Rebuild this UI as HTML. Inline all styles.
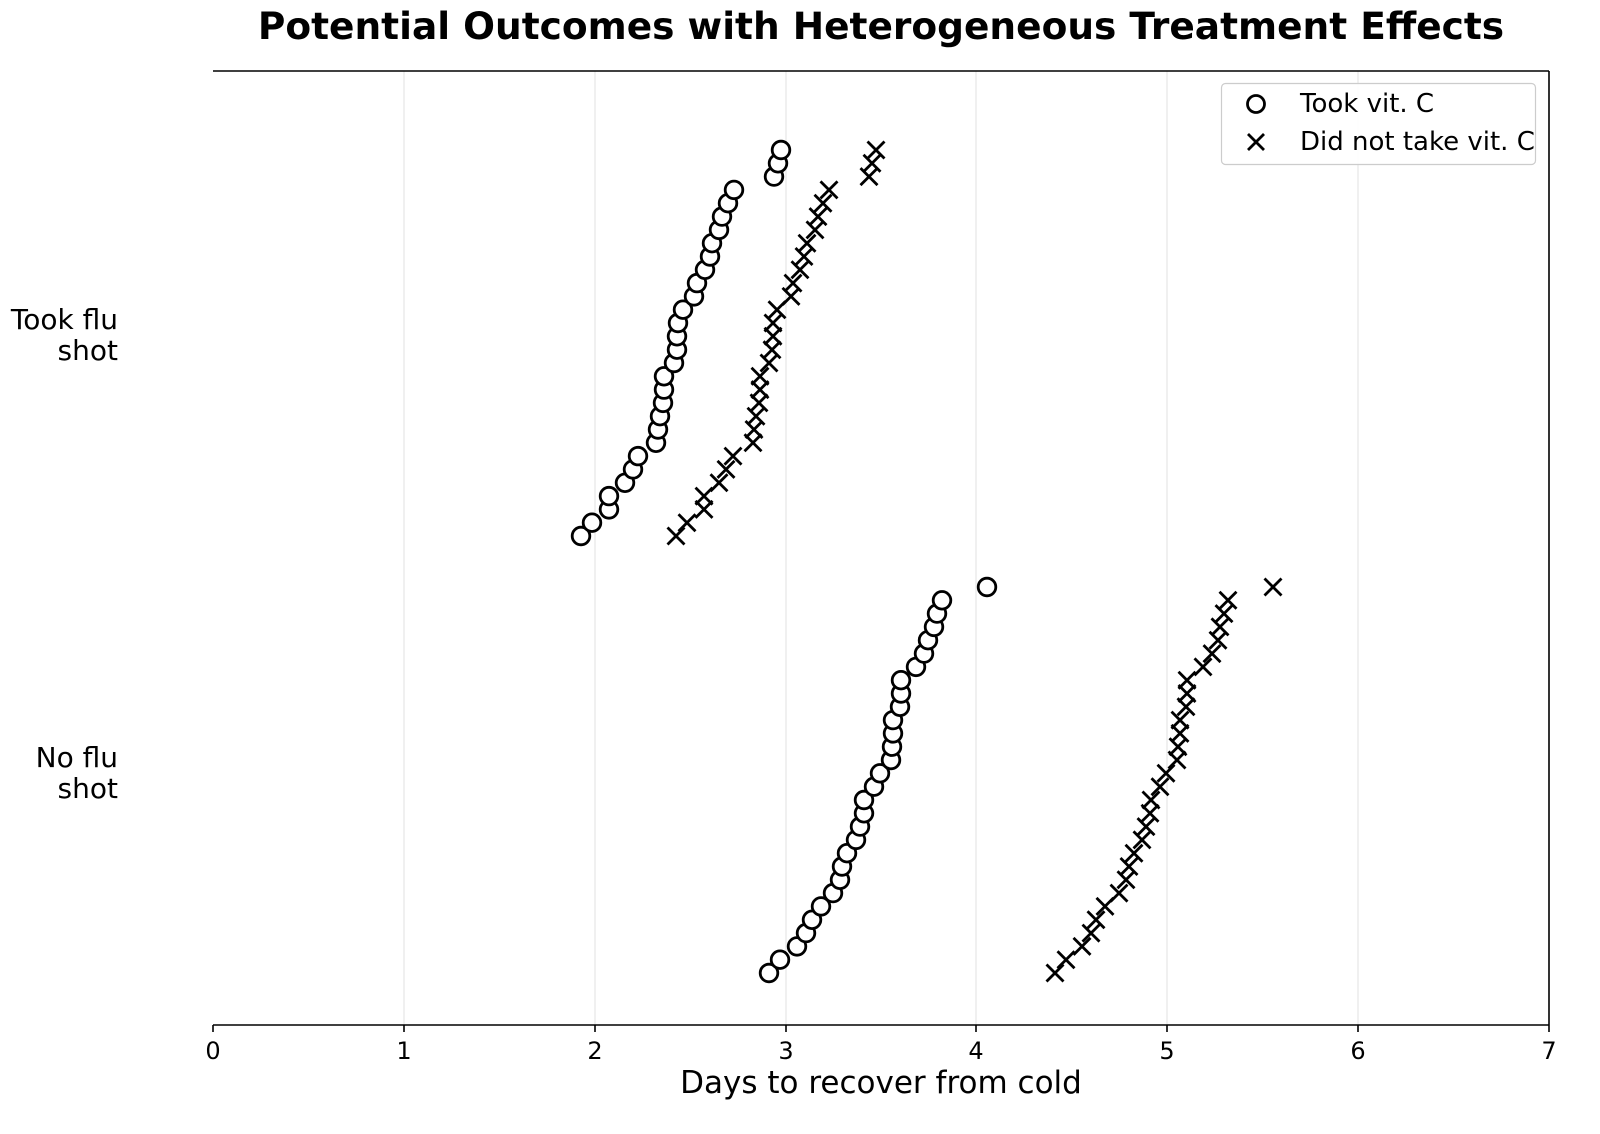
<!DOCTYPE html>
<html><head><meta charset="utf-8"><style>body{margin:0;background:#fff}svg{display:block}text{font-family:"DejaVu Sans","Liberation Sans",sans-serif}</style></head>
<body>
<svg id="s" width="1600" height="1134" viewBox="0 0 1600 1134" xmlns="http://www.w3.org/2000/svg">
<rect width="1600" height="1134" fill="#fff"/>
<g stroke="#e6e6e6" stroke-width="1.2">
<line x1="404" y1="71" x2="404" y2="1025"/><line x1="595" y1="71" x2="595" y2="1025"/><line x1="786" y1="71" x2="786" y2="1025"/><line x1="976" y1="71" x2="976" y2="1025"/><line x1="1167" y1="71" x2="1167" y2="1025"/><line x1="1358" y1="71" x2="1358" y2="1025"/>
</g>
<g stroke="#000" stroke-width="1.6" fill="none">
<line x1="213" y1="71" x2="1549" y2="71"/><line x1="213" y1="1025" x2="1549" y2="1025"/><line x1="1549" y1="71" x2="1549" y2="1025"/>
<line x1="213" y1="1025" x2="213" y2="1032"/><line x1="404" y1="1025" x2="404" y2="1032"/><line x1="595" y1="1025" x2="595" y2="1032"/><line x1="786" y1="1025" x2="786" y2="1032"/><line x1="976" y1="1025" x2="976" y2="1032"/><line x1="1167" y1="1025" x2="1167" y2="1032"/><line x1="1358" y1="1025" x2="1358" y2="1032"/><line x1="1549" y1="1025" x2="1549" y2="1032"/>
</g>
<g font-size="24" text-anchor="middle" fill="#000">
<text x="213" y="1059">0</text><text x="404" y="1059">1</text><text x="595" y="1059">2</text><text x="786" y="1059">3</text><text x="976" y="1059">4</text><text x="1167" y="1059">5</text><text x="1358" y="1059">6</text><text x="1549" y="1059">7</text>
</g>
<text x="881" y="1093" font-size="31" text-anchor="middle">Days to recover from cold</text>
<text x="881" y="39" font-size="37.5" font-weight="bold" text-anchor="middle">Potential Outcomes with Heterogeneous Treatment Effects</text>
<g font-size="28" text-anchor="end">
<text x="118" y="329">Took flu</text><text x="118" y="360">shot</text>
<text x="118" y="767">No flu</text><text x="118" y="798">shot</text>
</g>
<rect x="1221.5" y="83.5" width="314" height="81" rx="4" fill="#fff" fill-opacity="0.85" stroke="#ccc" stroke-width="1.2"/>
<circle cx="1256" cy="104" r="8.5" fill="none" stroke="#000" stroke-width="2.8"/>
<path d="M1248 134L1264 150M1264 134L1248 150" stroke="#000" stroke-width="2.8"/>
<text x="1300" y="112" font-size="26">Took vit. C</text>
<text x="1300" y="150" font-size="26">Did not take vit. C</text>
<g id="pts" stroke="#000" stroke-width="2.8" fill="none"></g>
</svg>
<script>
var tc=[581,592,609,609,625,633,638,656,658,660,663,664,664,674,677,677,678,683,694,697,705,710,712,719,722,728,734,774,778,781];
var tx=[676,687,704,704,719,726,733,753,754,756,759,760,760,769,772,773,773,777,791,793,800,804,807,815,818,823,829,869,872,876];
var bc=[769,780,797,806,812,821,833,840,842,847,856,860,864,864,874,880,891,892,893,893,900,901,901,916,924,928,934,937,942,987];
var bx=[1055,1066,1082,1091,1096,1105,1119,1126,1129,1134,1142,1146,1150,1151,1160,1166,1177,1178,1180,1180,1186,1187,1187,1203,1212,1218,1220,1224,1228,1273];
var g=document.getElementById('pts'),h='';
function add(xs,y0,circ){for(var i=0;i<xs.length;i++){var y=y0-i*(386/29),x=xs[i];
if(circ)h+='<circle cx="'+x+'" cy="'+y.toFixed(1)+'" r="8.8" fill="#fff"/>';
else h+='<path d="M'+(x-8.5)+' '+(y-8.5).toFixed(1)+'l17 17M'+(x+8.5)+' '+(y-8.5).toFixed(1)+'l-17 17"/>';}}
add(tc,536,1);add(tx,536,0);add(bc,973,1);add(bx,973,0);
g.innerHTML=h;
</script>
</body></html>
